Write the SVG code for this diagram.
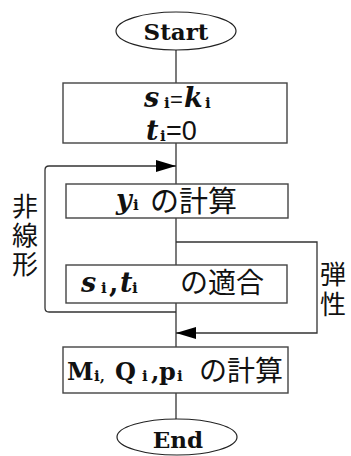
<svg xmlns="http://www.w3.org/2000/svg" width="351" height="456" viewBox="0 0 351 456">
<style>
.box{fill:#fff;stroke:#444;stroke-width:1.4}
.term{fill:#fff;stroke:#222;stroke-width:1.2}
.ln{fill:none;stroke:#333;stroke-width:1.3}
.ser{font-family:"DejaVu Serif","Liberation Serif",serif;font-weight:bold;fill:#111}
.it{font-style:italic}
.sub{font-size:15px;font-style:normal}
.jp{font-family:"Noto Sans CJK JP","Noto Sans",sans-serif;fill:#111}
.vert{writing-mode:vertical-rl;text-orientation:upright}
.sans{font-family:"Liberation Sans",Arial,sans-serif;fill:#111}
</style>
<defs>
<marker id="ah" markerWidth="20" markerHeight="12" refX="20" refY="6" orient="auto" markerUnits="userSpaceOnUse">
<path d="M0,0 L20,6 L0,12 Z" fill="#000"/>
</marker>
</defs>
<rect width="351" height="456" fill="#fff"/>
<g id="connectors">
<line class="ln" x1="176" y1="50" x2="176" y2="83"/>
<line class="ln" x1="176" y1="143" x2="176" y2="184"/>
<line class="ln" x1="176" y1="218" x2="176" y2="265"/>
<line class="ln" x1="176" y1="303" x2="176" y2="347"/>
<line class="ln" x1="176" y1="393" x2="176" y2="420"/>
<path class="ln" d="M176,312 H49 Q45,312 45,308 V170 Q45,166 49,166 H176" marker-end="url(#ah)"/>
<path class="ln" d="M176,242 H317 V333 H176" marker-end="url(#ah)"/>
</g>
<g id="start">
<ellipse class="term" cx="176" cy="31" rx="60" ry="19"/>
<text class="ser" x="176" y="40" font-size="23" text-anchor="middle">Start</text>
</g>
<g id="init">
<rect class="box" x="63" y="83" width="224" height="60"/>
<text class="ser" y="107" font-size="27"><tspan class="it" x="144">s</tspan><tspan class="sub" x="164" y="108">i</tspan><tspan class="sans" font-weight="normal" font-size="22" x="170" y="107">=</tspan><tspan class="it" x="184">k</tspan><tspan class="sub" x="205" y="108">i</tspan></text>
<text class="ser" y="140" font-size="27"><tspan class="it" x="146">t</tspan><tspan class="sub" x="160" y="141">i</tspan><tspan class="sans" font-weight="normal" font-size="27" x="166" y="140">=0</tspan></text>
</g>
<g id="calc-y">
<rect class="box" x="66" y="184" width="222" height="34"/>
<text class="ser" y="209" font-size="27"><tspan class="it" x="116">y</tspan><tspan class="sub" x="133" y="210">i</tspan></text>
<text class="jp" x="150" y="212" font-size="29">の計算</text>
</g>
<g id="fit">
<rect class="box" x="66" y="265" width="221" height="38"/>
<text class="ser" y="292" font-size="27"><tspan class="it" x="81">s</tspan><tspan class="sub" x="101" y="293">i</tspan><tspan x="109" y="292">,</tspan><tspan class="it" x="120">t</tspan><tspan class="sub" x="132" y="293">i</tspan></text>
<text class="jp" x="180" y="293" font-size="28">の適合</text>
</g>
<g id="calc-mqp">
<rect class="box" x="63" y="347" width="225" height="46"/>
<text class="ser" y="380" font-size="24"><tspan x="67">M</tspan><tspan class="sub" x="94" y="381">i,</tspan><tspan x="115" y="380">Q</tspan><tspan class="sub" x="142" y="381">i</tspan><tspan x="151" y="380">,</tspan><tspan x="159">p</tspan><tspan class="sub" x="177" y="381">i</tspan></text>
<text class="jp" x="199" y="381" font-size="28">の計算</text>
</g>
<g id="end">
<ellipse class="term" cx="177" cy="437" rx="60" ry="18"/>
<text class="ser" x="178" y="448" font-size="23" text-anchor="middle">End</text>
</g>
<g id="labels">
<text class="jp vert" x="25" y="193" font-size="26" letter-spacing="3">非線形</text>
<text class="jp vert" x="333" y="261" font-size="26" letter-spacing="4">弾性</text>
</g>
</svg>
